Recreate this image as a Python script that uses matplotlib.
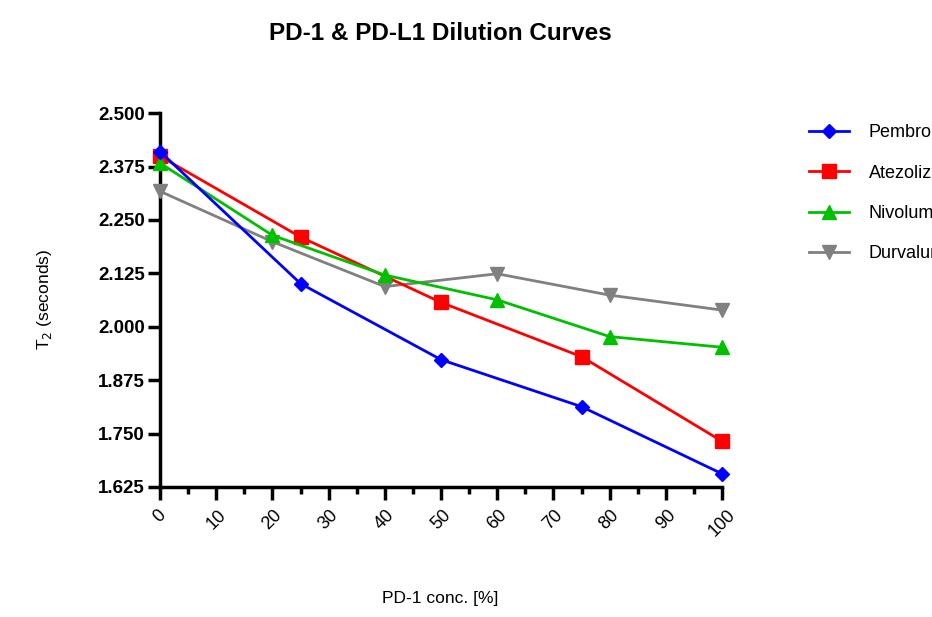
import matplotlib
matplotlib.use("Agg")
import matplotlib.pyplot as plt

plt.rcParams["font.family"] = ["Liberation Sans", "DejaVu Sans"]

pembro_x = [0, 25, 50, 75, 100]
pembro_y = [2.410, 2.101, 1.923, 1.813, 1.656]

atezo_x = [0, 25, 50, 75, 100]
atezo_y = [2.399, 2.210, 2.057, 1.930, 1.732]

nivo_x = [0, 20, 40, 60, 80, 100]
nivo_y = [2.383, 2.214, 2.121, 2.063, 1.977, 1.952]

durva_x = [0, 20, 40, 60, 80, 100]
durva_y = [2.317, 2.199, 2.094, 2.124, 2.074, 2.039]

y_ticks = [1.625, 1.750, 1.875, 2.000, 2.125, 2.250, 2.375, 2.500]
x_ticks = [0, 10, 20, 30, 40, 50, 60, 70, 80, 90, 100]

fig = plt.figure(figsize=(9.32, 6.17), dpi=100)
ax = fig.add_axes([0.1717, 0.2107, 0.603, 0.606])

ax.plot(pembro_x, pembro_y, color="#0000ff", marker="D", markersize=7, lw=2,
        label="Pembrolizumab", clip_on=False, zorder=6)
ax.plot(atezo_x, atezo_y, color="#ff0000", marker="s", markersize=10, lw=2,
        label="Atezolizumab", clip_on=False, zorder=4)
ax.plot(nivo_x, nivo_y, color="#00c000", marker="^", markersize=10, lw=2,
        label="Nivolumab", clip_on=False, zorder=5)
ax.plot(durva_x, durva_y, color="#808080", marker="v", markersize=10, lw=2,
        label="Durvalumab", clip_on=False, zorder=3)

ax.set_xlim(0, 100)
ax.set_ylim(1.625, 2.5)
ax.set_yticks(y_ticks)
ax.set_yticklabels([f"{v:.3f}" for v in y_ticks], fontweight="bold", fontsize=13.5)
ax.set_xticks(x_ticks)
ax.set_xticks(range(5, 100, 10), minor=True)
ax.set_xticklabels([str(v) for v in x_ticks], rotation=45, fontsize=13,
                   ha="center", va="top")

for s in ["top", "right"]:
    ax.spines[s].set_visible(False)
for s in ["left", "bottom"]:
    ax.spines[s].set_linewidth(2.5)
ax.tick_params(axis="both", which="major", width=2.5, length=9, direction="out")
ax.tick_params(axis="x", which="minor", width=2.5, length=5, direction="out")
ax.tick_params(axis="x", pad=5)
ax.tick_params(axis="y", pad=2)

fig.text(0.472, 0.945, "PD-1 & PD-L1 Dilution Curves", ha="center", va="center",
         fontsize=17.5, fontweight="bold")
fig.text(0.472, 0.03, "PD-1 conc. [%]", ha="center", va="center", fontsize=12.5)
fig.text(0.048, 0.515, "T$_2$ (seconds)", ha="center", va="center", fontsize=12.5,
         rotation=90)

# legend sits partly outside the figure, as in the original export
ax.legend(loc="upper left", bbox_to_anchor=(1.142, 0.99), frameon=False,
          fontsize=13, handlelength=2.2, labelspacing=1.3, handletextpad=1.1,
          borderaxespad=0)

fig.savefig("out.png", dpi=100)
